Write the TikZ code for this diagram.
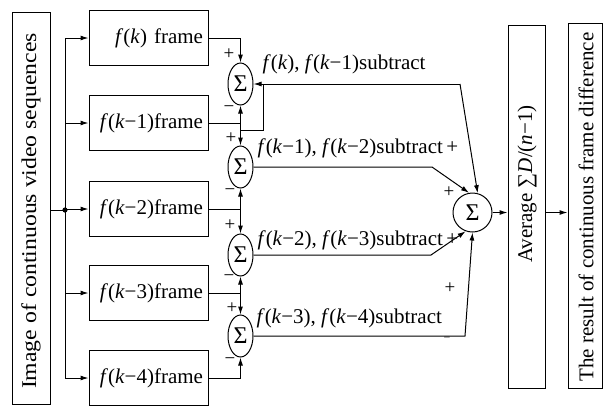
\documentclass[tikz,border=0pt]{standalone}
\usepackage{fontspec}
\setmainfont{Liberation Serif}
\usetikzlibrary{arrows.meta,shapes.geometric}

\begin{document}
\begin{tikzpicture}[x=1pt,y=-1pt,line width=1pt,
  font=\fontsize{21}{25}\selectfont,
  arr/.style={-{Latex[length=8pt,width=5pt]}},
  framebox/.style={draw,minimum height=55pt,text width=109pt,inner xsep=5pt,inner ysep=0pt,align=right},
  tallbox/.style={draw,inner sep=0pt},
  sumnode/.style={draw,ellipse,minimum width=25pt,minimum height=42pt,inner sep=0pt,font=\fontsize{24}{24}\selectfont},
  bigsum/.style={draw,circle,minimum size=39pt,inner sep=0pt,font=\fontsize{24}{24}\selectfont},
  sign/.style={inner sep=0pt,font=\fontsize{19}{19}\selectfont},
  lbl/.style={anchor=west,inner sep=0pt}]
\useasboundingbox (0,0) rectangle (603,408);

% source and output columns
\node[tallbox,minimum width=38pt,minimum height=392pt] (src) at (31,208) {};
\node[rotate=90,inner sep=0pt] (srctext) at (31,211) {\scalebox{1.13}[1]{Image of continuous video sequences}};
\node[tallbox,minimum width=37pt,minimum height=363pt] (avg) at (526.5,206.5) {};
\node[rotate=90,inner sep=0pt] (avgtext) at (527,184) {Average ∑\textit{D}/(\textit{n}−1)};
\node[tallbox,minimum width=34pt,minimum height=365pt] (res) at (585,205.5) {};
\node[rotate=90,inner sep=0pt] (restext) at (586,207) {The result of continuous frame difference};

% frame buffers
\node[framebox] (b0) at (148.5,38) {\textit{f}(\textit{k}) frame};
\node[framebox] (b1) at (148.5,123) {\textit{f}(\textit{k}−1)frame};
\node[framebox] (b2) at (148.5,209) {\textit{f}(\textit{k}−2)frame};
\node[framebox] (b3) at (148.5,293) {\textit{f}(\textit{k}−3)frame};
\node[framebox] (b4) at (148.5,378) {\textit{f}(\textit{k}−4)frame};

% distribution bus
\coordinate (bus) at (65,210);
\draw (src.east |- bus) -- (bus);
\fill (bus) circle (2.6pt);
\draw (b0.west -| bus) -- (b4.west -| bus);
\foreach \b in {b0,b1,b2,b3,b4}
  \draw[arr] (\b.west -| bus) -- (\b.west);

% difference stages
\node[sumnode] (s1) at (240.5,84) {Σ};
\node[sumnode] (s2) at (240.5,167) {Σ};
\node[sumnode] (s3) at (240.5,255) {Σ};
\node[sumnode] (s4) at (240.5,336) {Σ};

\draw[arr] (b0.east) -| (s1.north);
\coordinate (j1) at (s1.south |- b1.east);
\coordinate (j2) at (s2.south |- b2.east);
\coordinate (j3) at (s3.south |- b3.east);
\draw (b1.east) -- (j1);
\draw (b2.east) -- (j2);
\draw (b3.east) -- (j3);
\draw[arr] (j1) -- (s1.south);
\draw[arr] (j1) -- (s2.north);
\draw[arr] (j2) -- (s2.south);
\draw[arr] (j2) -- (s3.north);
\draw[arr] (j3) -- (s3.south);
\draw[arr] (j3) -- (s4.north);
\draw[arr] (b4.east) -| (s4.south);

% signs at the difference stages
\node[sign] (p1) at (229,54) {+};
\node[sign] (m1) at (229,109) {−};
\node[sign] (p2) at (231,138) {+};
\node[sign] (m2) at (230,192) {−};
\node[sign] (p3) at (230,225) {+};
\node[sign] (m3) at (229,278) {−};
\node[sign] (p4) at (232,308) {+};
\node[sign] (m4) at (230,361) {−};

% summing node
\node[bigsum] (S) at (472.5,212.5) {Σ};

\coordinate (la) at (240.5,130);
\coordinate (lb) at (263,130);
\coordinate (top) at (460,84);
\draw (la) -- (lb) -- (lb |- s1.east);
\draw[arr] (top) -- (s1.east);
\draw[arr] (top) -- (S.75);

\coordinate (k2) at (432,167);
\coordinate (k3) at (431,255);
\coordinate (k4) at (465,336);
\draw[arr] (s2.east) -- (k2) -- (S.100);
\draw[arr] (s3.east) -- (k3) -- (S.250);
\draw[arr] (s4.east) -- (k4) -- (S.270);

\draw[arr] (S.east) -- (avg.west |- S.east);
\draw[arr] (avg.east |- S.east) -- (res.west |- S.east);

% stage labels
\node[lbl] (l1) at (262,64) {\textit{f}(\textit{k}), \textit{f}(\textit{k}−1)subtract};
\node[lbl] (l2) at (257,148) {\textit{f}(\textit{k}−1), \textit{f}(\textit{k}−2)subtract\,+};
\node[lbl] (l3) at (257,240) {\textit{f}(\textit{k}−2), \textit{f}(\textit{k}−3)subtract\,+};
\node[lbl] (l4) at (256,318) {\textit{f}(\textit{k}−3), \textit{f}(\textit{k}−4)subtract};

\node[sign] (q1) at (449,192) {+};
\node[sign] (q2) at (450,288) {+};
\node[sign,font=\fontsize{12}{12}\selectfont] (q3) at (447,339) {−};
\end{tikzpicture}
\end{document}
